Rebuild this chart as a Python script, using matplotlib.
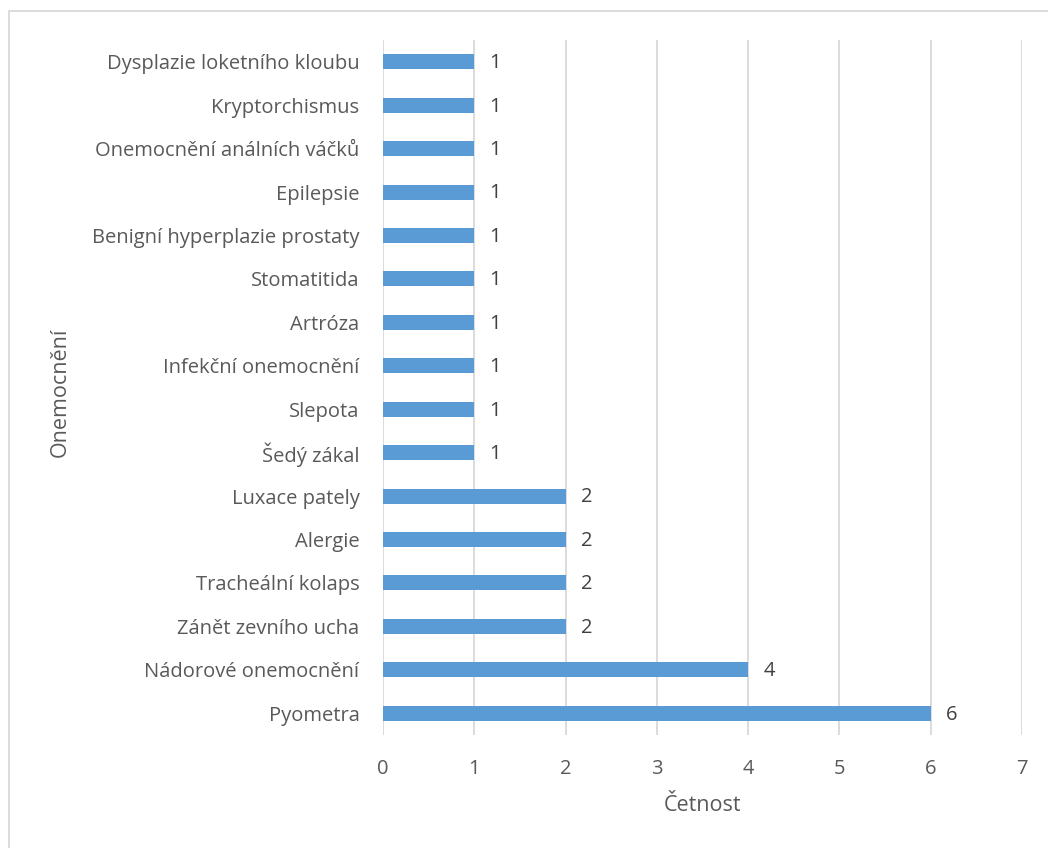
import matplotlib
matplotlib.use("Agg")
import matplotlib.pyplot as plt
from matplotlib.patches import Rectangle

categories = [
    "Pyometra",
    "Nádorové onemocnění",
    "Zánět zevního ucha",
    "Tracheální kolaps",
    "Alergie",
    "Luxace pately",
    "Šedý zákal",
    "Slepota",
    "Infekční onemocnění",
    "Artróza",
    "Stomatitida",
    "Benigní hyperplazie prostaty",
    "Epilepsie",
    "Onemocnění análních váčků",
    "Kryptorchismus",
    "Dysplazie loketního kloubu",
]
values = [6, 4, 2, 2, 2, 2, 1, 1, 1, 1, 1, 1, 1, 1, 1, 1]
xticks = [0, 1, 2, 3, 4, 5, 6, 7]

plt.rcParams['font.family'] = ['Open Sans', 'DejaVu Sans']

W, H = 1048, 848
fig = plt.figure(figsize=(W / 100, H / 100), dpi=100)
ax = fig.add_axes([383 / W, 1 - 735 / H, (1022 - 383) / W, (735 - 40) / H])

ypos = list(range(len(categories)))
ax.barh(ypos, values, height=0.345, color="#5B9BD5", zorder=3)
for y, v in zip(ypos, values):
    ax.annotate(str(v), xy=(v, y), xytext=(11, -1), textcoords="offset points",
                va="center", ha="left", fontsize=14.5, color="#404040")

ax.set_xlim(0, 7)
ax.set_ylim(-0.5, len(categories) - 0.5)
ax.set_xticks(xticks)
ax.set_xticklabels([str(t) for t in xticks])
ax.set_yticks(ypos)
ax.set_yticklabels(categories)
ax.grid(axis="x", color="#D9D9D9", linewidth=1.3, zorder=0)
ax.grid(axis="y", visible=False)
for s in ax.spines.values():
    s.set_visible(False)
ax.tick_params(axis="both", length=0, labelsize=14.5, colors="#595959")
ax.tick_params(axis="y", pad=17)
ax.tick_params(axis="x", pad=17)

ax.set_xlabel("Četnost", fontsize=15.5, color="#595959", labelpad=12)
fig.text(60 / W, 1 - 392 / H, "Onemocnění", rotation=90, fontsize=15.5,
         color="#595959", ha="center", va="center")

frame = Rectangle((9 / W, -0.2), 1.5, 1 - 11 / H + 0.2, transform=fig.transFigure,
                  fill=False, edgecolor="#D9D9D9", linewidth=1.3, clip_on=False)
fig.patches.append(frame)

fig.savefig("out.png", dpi=100)
